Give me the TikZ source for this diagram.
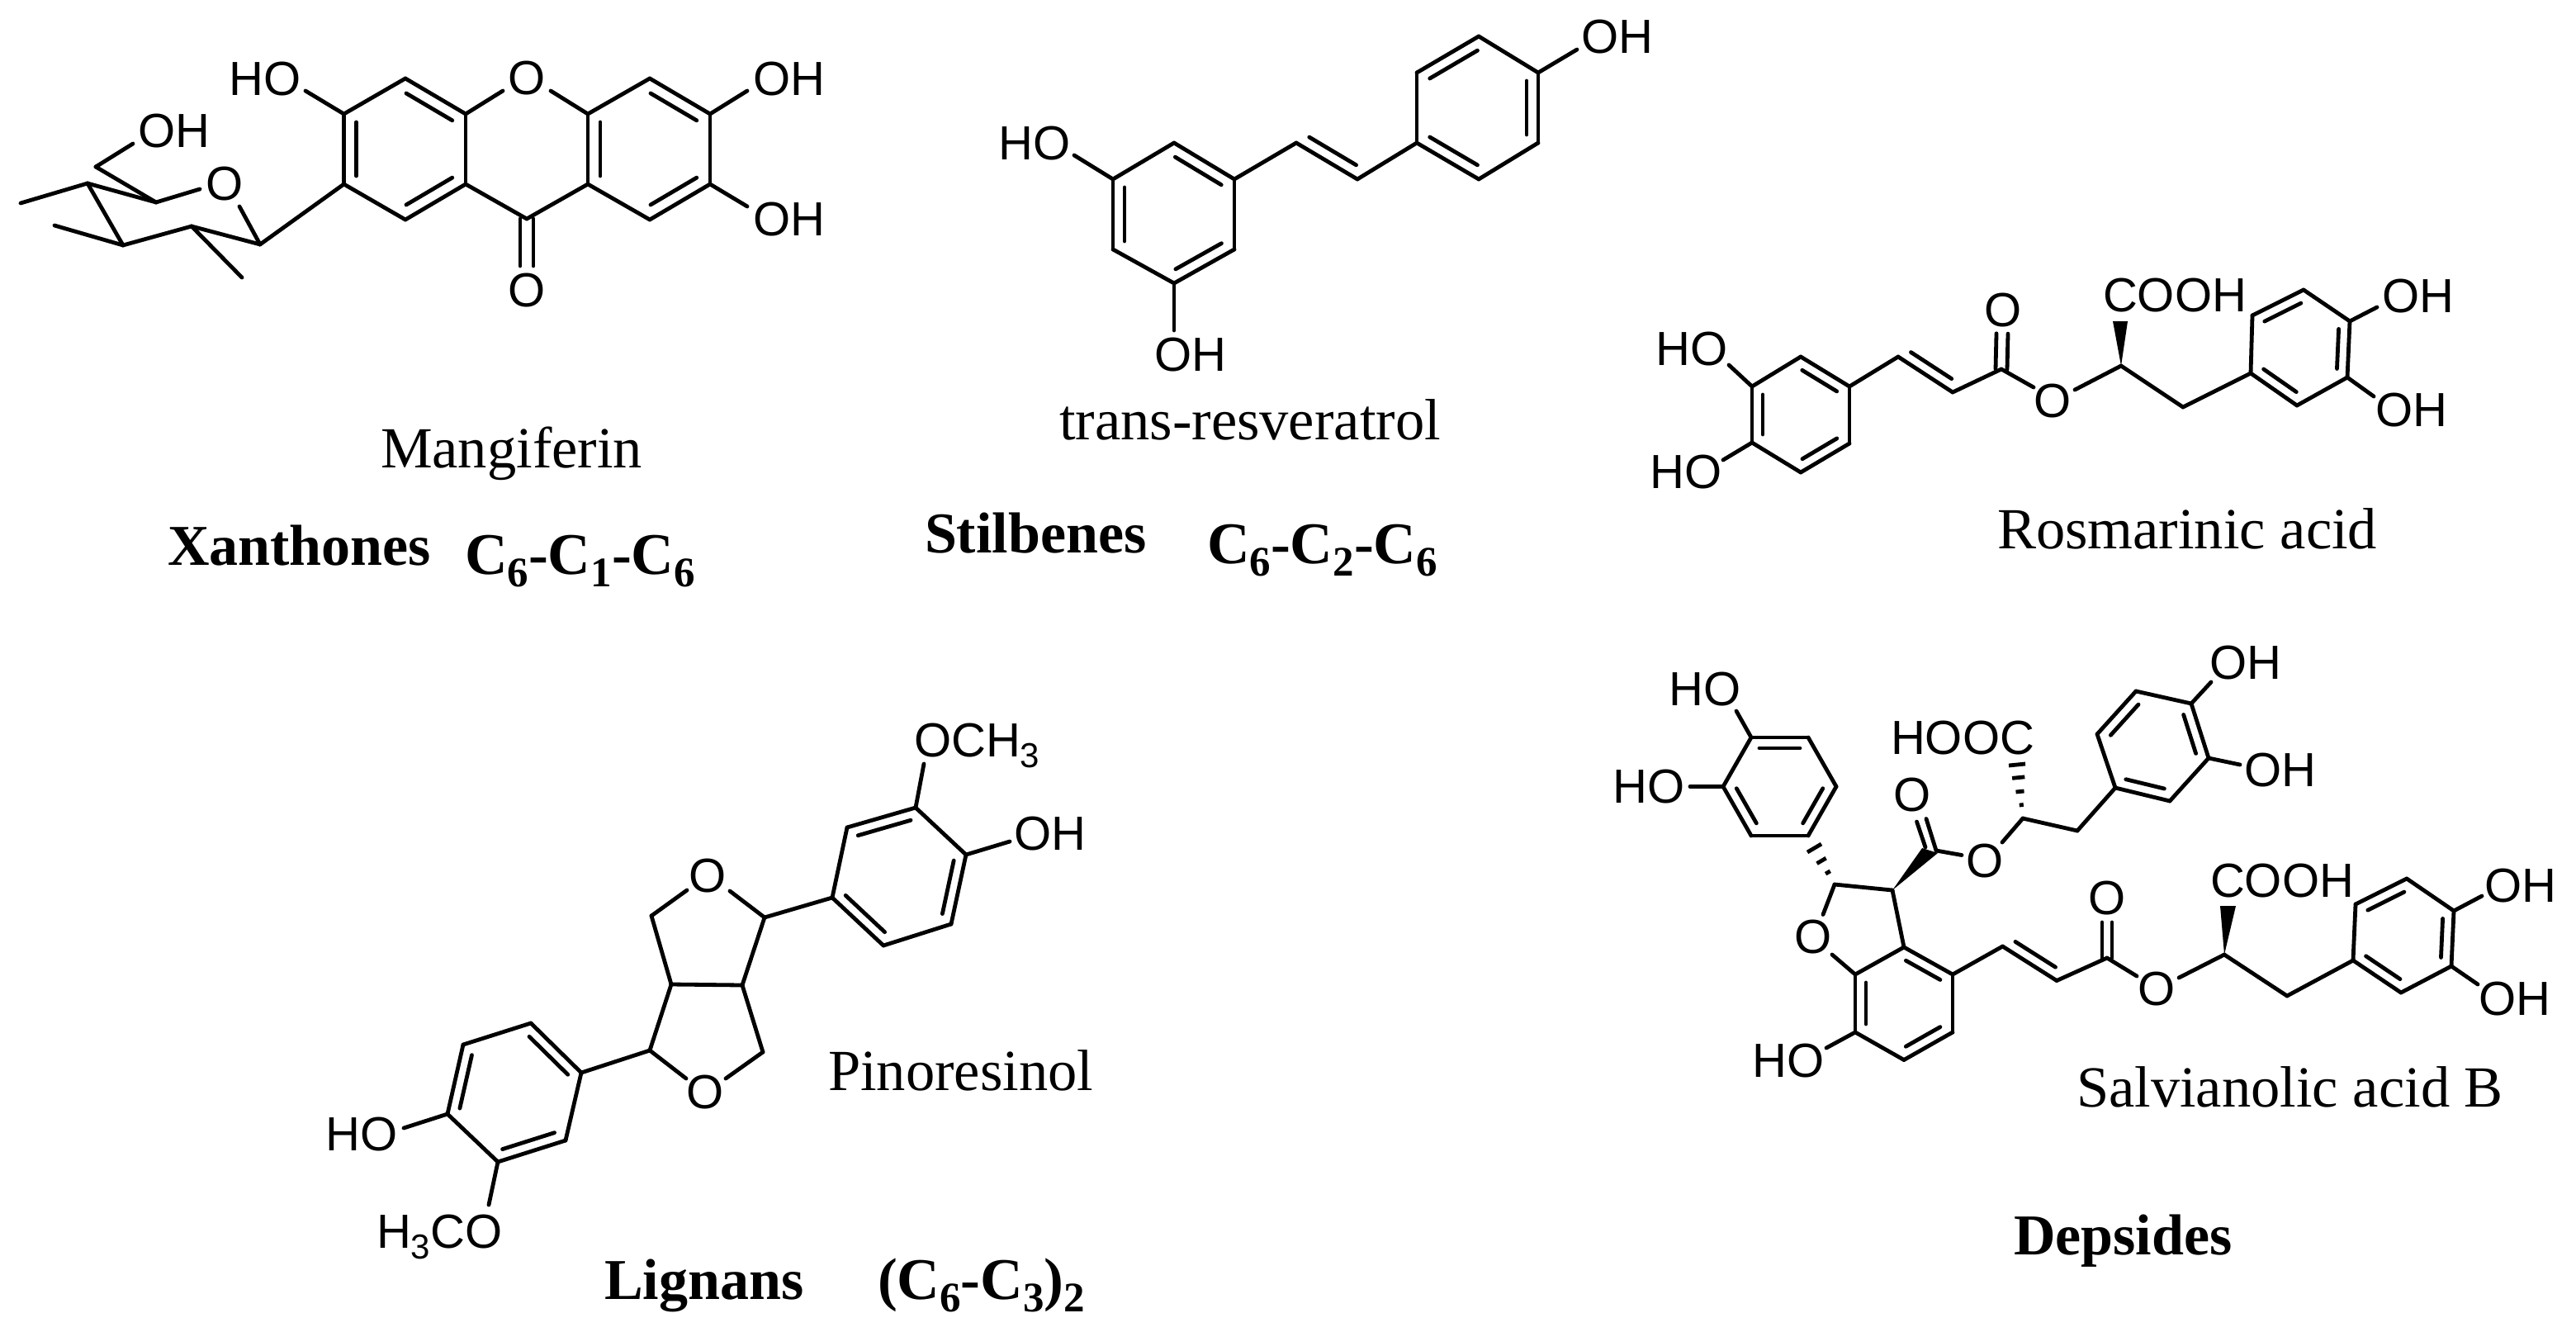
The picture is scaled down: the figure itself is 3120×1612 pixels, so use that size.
\documentclass[tikz,border=0pt]{standalone}
\usepackage{fontspec}
\setmainfont{Liberation Serif}
\newfontfamily\chemfam{Liberation Sans}
\usetikzlibrary{calc}
\newcommand{\chemsub}[1]{\raisebox{-13pt}{\fontsize{42}{42}\selectfont #1}}
\newcommand{\capsub}[1]{\raisebox{-15pt}{\fontsize{51}{51}\selectfont #1}}
\tikzset{
  bond/.style={line width=4.8pt,line cap=round,line join=round,black},
  hashbar/.style={line width=4.8pt,line cap=butt,black},
  atom/.style={inner sep=0pt,outer sep=0pt,font=\chemfam\fontsize{58}{60}\selectfont,text=black},
  satom/.style={atom,anchor=base west},
  caption/.style={inner sep=0pt,outer sep=0pt,anchor=base west,font=\fontsize{70.5}{72}\selectfont,text=black},
  classname/.style={caption,font=\bfseries\fontsize{70}{72}\selectfont},
  formula/.style={caption,font=\bfseries\fontsize{71.5}{72}\selectfont},
}
% inner line of a double bond, on the right-hand side of the walk #1 -> #2
\newcommand{\dbl}[3]{%
  \coordinate (p1) at ($(#1)!10pt!(#2)$);
  \coordinate (p2) at ($(#2)!10pt!(#1)$);
  \draw[bond] ($(p1)!#3!-90:(p2)$) -- ($(p2)!#3!90:(p1)$);}
% symmetric double bond
\newcommand{\dbo}[3]{%
  \draw[bond] ($(#1)!#3!90:(#2)$) -- ($(#2)!#3!-90:(#1)$);
  \draw[bond] ($(#1)!#3!-90:(#2)$) -- ($(#2)!#3!90:(#1)$);}
\begin{document}
\begin{tikzpicture}[x=1pt,y=-1pt]
\useasboundingbox (0,0) rectangle (3120,1612);
% ===== Mangiferin
\foreach \n/\x/\y in {a1/416.5/138,a2/491/95,a3/564/138,a4/564/223,a5/491/266,a6/416.5/223,a7/638/265,a8/712/223,a9/712/138,a10/787/95,a11/860/138,a12/860/223,a13/787/266,a14/370/110,a15/609/110,a16/667/110,a17/905/110,a18/905/250,a19/638/322,
 s1/189/245,s2/106/222,s3/149/297,s4/232/274,s5/315/296,s6/116/202,s7/161/174,s8/25/246,s9/66/273,s10/293/336,s11/242/229,s12/290/250}
  \coordinate (\n) at (\x,\y);
\foreach \p/\q in {a1/a2,a2/a3,a3/a4,a4/a5,a5/a6,a6/a1,a4/a7,a7/a8,a8/a9,a9/a10,a10/a11,a11/a12,a12/a13,a13/a8,a3/a15,a9/a16,a1/a14,a11/a17,a12/a18,a6/s5,s6/s7,s6/s1,s2/s1,s2/s3,s3/s4,s4/s5,s2/s8,s3/s9,s4/s10,s1/s11,s5/s12}
  \draw[bond] (\p) -- (\q);
\foreach \p/\q in {a6/a1,a2/a3,a4/a5,a8/a9,a10/a11,a12/a13} {\dbl{\p}{\q}{15pt}}
\dbo{a7}{a19}{8pt}
\node[atom] (aHO) at (321,96) {HO};
\node[atom] (aOr) at (638,95) {O};
\node[atom] (aOH1) at (956,96) {OH};
\node[atom] (aOH2) at (956,266) {OH};
\node[atom] (aOc) at (638,352) {O};
\node[atom] (sO) at (272,223) {O};
\node[atom] (sOH) at (211,159) {OH};
\node[caption] (capA) at (461,566) {Mangiferin};
\node[classname] (clsA) at (203,684) {Xanthones};
\node[formula] (fmlA) at (563,695) {C\capsub{6}-C\capsub{1}-C\capsub{6}};
% ===== trans-resveratrol
\foreach \n/\x/\y in {b1/1348/217,b2/1422/173,b3/1495/217,b4/1495/302,b5/1422/343,b6/1348/302,b7/1570/173,b8/1644/217,b9/1716/173,b10/1716/88,b11/1791/44,b12/1863/88,b13/1863/173,b14/1791/217,b15/1301/188,b16/1422/400,b17/1910/60}
  \coordinate (\n) at (\x,\y);
\foreach \p/\q in {b1/b2,b2/b3,b3/b4,b4/b5,b5/b6,b6/b1,b3/b7,b7/b8,b8/b9,b9/b10,b10/b11,b11/b12,b12/b13,b13/b14,b14/b9,b1/b15,b5/b16,b12/b17}
  \draw[bond] (\p) -- (\q);
\foreach \p/\q in {b2/b3,b4/b5,b6/b1,b8/b7,b10/b11,b12/b13,b14/b9} {\dbl{\p}{\q}{14pt}}
\node[atom] (bHO) at (1253,174) {HO};
\node[atom] (bOH1) at (1442,430) {OH};
\node[atom] (bOH2) at (1959,45) {OH};
\node[caption] (capB) at (1283,532) {trans-resveratrol};
\node[classname] (clsB) at (1120,669) {Stilbenes};
\node[formula] (fmlB) at (1462,682) {C\capsub{6}-C\capsub{2}-C\capsub{6}};
% ===== Rosmarinic acid
\foreach \n/\x/\y in {c1/2122/468,c2/2181/432,c3/2240/468,c4/2240/537,c5/2181/572,c6/2122/536,c7/2299/432,c8/2365/475,c9/2424/447,c10/2425/404,c11/2463/469,c12/2513/472,c13/2569/443,c14/2644/493,c15/2726/452,c16/2728/382,c17/2790/351,c18/2846/389,c19/2843/457,c20/2782/491,c21/2094/442,c22/2087/557,c23/2879/372,c24/2875/480,c25/2559/389,c26/2577/389}
  \coordinate (\n) at (\x,\y);
\foreach \p/\q in {c1/c2,c2/c3,c3/c4,c4/c5,c5/c6,c6/c1,c3/c7,c7/c8,c8/c9,c9/c11,c12/c13,c13/c14,c14/c15,c15/c16,c16/c17,c17/c18,c18/c19,c19/c20,c20/c15,c1/c21,c6/c22,c18/c23,c19/c24}
  \draw[bond] (\p) -- (\q);
\foreach \p/\q in {c6/c1,c2/c3,c4/c5,c8/c7,c16/c17,c18/c19,c20/c15} {\dbl{\p}{\q}{13pt}}
\dbo{c9}{c10}{7pt}
\fill[black] (c13) -- (c25) -- (c26) -- cycle;
\node[atom] (cHO1) at (2049,423) {HO};
\node[atom] (cHO2) at (2042,572) {HO};
\node[atom] (cO1) at (2426,376) {O};
\node[atom] (cO2) at (2486,486) {O};
\node[atom] (cCOOH) at (2634,358) {COOH};
\node[atom] (cOH1) at (2929,359) {OH};
\node[atom] (cOH2) at (2921,497) {OH};
\node[caption] (capC) at (2419,664) {Rosmarinic acid};
% ===== Pinoresinol
\foreach \n/\x/\y in {d1/1109/978,d2/1170/1035,d3/1152/1119,d4/1070/1145,d5/1008/1087,d6/1026/1002,d7/1119/925,d8/1223/1019,d9/926/1111,d10/884/1079,d11/789/1109,d12/832/1078,d13/813/1192,d14/899/1193,d15/787/1272,d16/924/1274,d17/831/1306,d18/879/1306,d19/704/1299,d20/643/1239,d21/561/1265,d22/542/1349,d23/603/1407,d24/685/1381,d25/489/1366,d26/592/1459}
  \coordinate (\n) at (\x,\y);
\foreach \p/\q in {d1/d2,d2/d3,d3/d4,d4/d5,d5/d6,d6/d1,d1/d7,d2/d8,d5/d9,d9/d10,d11/d12,d11/d13,d9/d14,d13/d14,d13/d15,d14/d16,d15/d17,d16/d18,d15/d19,d19/d20,d20/d21,d21/d22,d22/d23,d23/d24,d24/d19,d22/d25,d23/d26}
  \draw[bond] (\p) -- (\q);
\foreach \p/\q in {d6/d1,d2/d3,d4/d5,d20/d19,d24/d23,d22/d21} {\dbl{\p}{\q}{13pt}}
\node[satom] (dOMe1) at (1107,916) {OCH\chemsub{3}};
\node[atom] (dOH1) at (1272,1010) {OH};
\node[atom] (dO1) at (857,1061) {O};
\node[atom] (dO2) at (854,1323) {O};
\node[atom] (dHO) at (438,1374) {HO};
\node[satom] (dOMe2) at (456,1511) {H\chemsub{3}CO};
\node[caption] (capD) at (1003,1320) {Pinoresinol};
\node[classname] (clsD) at (732,1573) {Lignans};
\node[formula] (fmlD) at (1063,1573) {(C\capsub{6}-C\capsub{3})\capsub{2}};
% ===== Salvianolic acid B
\foreach \n/\x/\y in {e1/2121/893,e2/2190/893,e3/2224/952.5,e4/2190/1012,e5/2121/1012,e6/2087/952.5,e7/2103/861,e8/2047/952.5,
 n1/2222/1071,n2/2292/1078,n3/2306/1147,n4/2247/1180,n5/2247/1250,n6/2306/1283.5,n7/2365/1250,n8/2365/1180,n9/2208/1107.5,n10/2219/1156,n11/2212/1269,
 h1/2189/1032,h2/2206/1022,
 f1/2345/1030,f2/2333/991.5,f3/2332/1026,f4/2321.5/995,f5/2376/1035.5,f6/2425/1020,f7/2450/991,f8/2516/1006,f9/2328/1027,f10/2347/1033,h3/2433/927,h4/2453/925,
 r1/2562/954,r2/2540/889,r3/2587/837,r4/2654/852,r5/2675/918,r6/2628/970,r7/2678/826,r8/2713/926,
 v1/2425.5/1146,v2/2491/1187.5,v3/2552/1160,v4/2552/1117,v5/2588/1182,v6/2639/1184,v7/2694/1156,v8/2770/1206,v9/2689/1097,v10/2708/1097,
 w1/2850/1163,w2/2853/1095,w3/2915/1064,w4/2972/1103,w5/2969/1170,w6/2908/1202,w7/3006/1085,w8/3001/1192}
  \coordinate (\n) at (\x,\y);
\foreach \p/\q in {e1/e2,e2/e3,e3/e4,e4/e5,e5/e6,e6/e1,e1/e7,e6/e8,n1/n2,n2/n3,n3/n4,n4/n5,n5/n6,n6/n7,n7/n8,n8/n3,n1/n9,n4/n10,n5/n11,f1/f2,f3/f4,f1/f5,f6/f7,f7/f8,f8/r1,r1/r2,r2/r3,r3/r4,r4/r5,r5/r6,r6/r1,r4/r7,r5/r8,n8/v1,v1/v2,v2/v3,v3/v5,v6/v7,v7/v8,v8/w1,w1/w2,w2/w3,w3/w4,w4/w5,w5/w6,w6/w1,w4/w7,w5/w8}
  \draw[bond] (\p) -- (\q);
\foreach \p/\q in {e1/e2,e3/e4,e5/e6,n3/n8,n5/n4,n7/n6,r2/r3,r4/r5,r6/r1,v2/v1,w2/w3,w4/w5,w6/w1} {\dbl{\p}{\q}{13pt}}
\dbo{v3}{v4}{6pt}
\fill[black] (n2) -- (f9) -- (f10) -- cycle;
\fill[black] (v7) -- (v9) -- (v10) -- cycle;
\foreach \t in {.33,.65,1} \draw[hashbar] ($(n1)!\t!(h1)$) -- ($(n1)!\t!(h2)$);
\foreach \t in {.25,.5,.76,1} \draw[hashbar] ($(f7)!\t!(h3)$) -- ($(f7)!\t!(h4)$);
\node[atom] (eHO1) at (2065,835) {HO};
\node[atom] (eHO2) at (1997,953) {HO};
\node[atom] (eO1) at (2196,1135) {O};
\node[atom] (eHO3) at (2166,1285) {HO};
\node[atom] (eO2) at (2316,963) {O};
\node[atom] (eO3) at (2404,1043) {O};
\node[atom] (eHOOC) at (2377,894) {HOOC};
\node[atom] (eOH1) at (2720,803) {OH};
\node[atom] (eOH2) at (2762,933) {OH};
\node[atom] (eO4) at (2552,1088) {O};
\node[atom] (eO5) at (2612,1198) {O};
\node[atom] (eCOOH) at (2764,1067) {COOH};
\node[atom] (eOH3) at (3053,1073) {OH};
\node[atom] (eOH4) at (3046,1210) {OH};
\node[caption] (capE) at (2515,1340) {Salvianolic acid B};
\node[classname] (clsE) at (2439,1519) {Depsides};
\end{tikzpicture}
\end{document}
